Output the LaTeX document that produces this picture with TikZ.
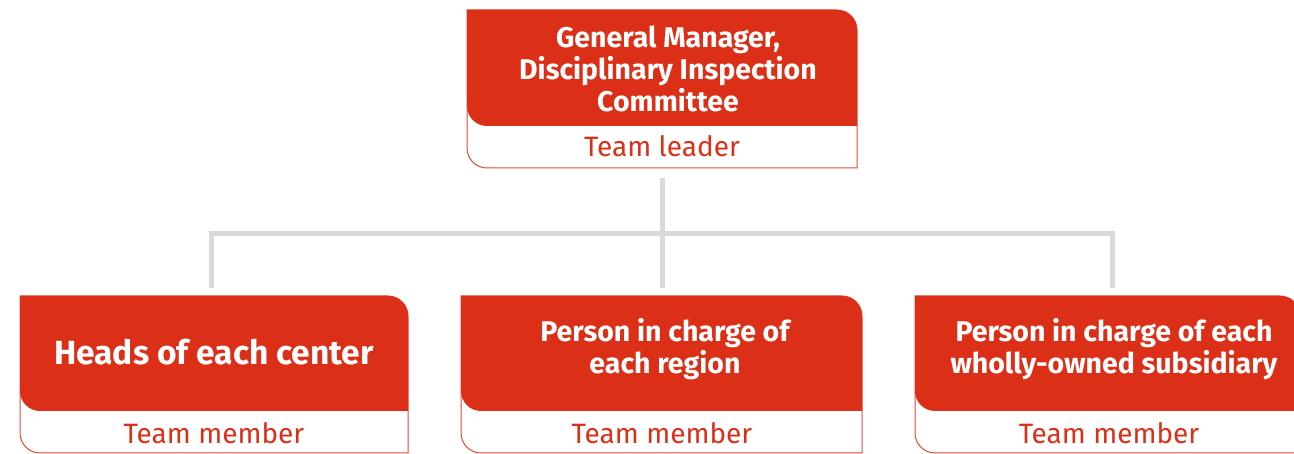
\documentclass[tikz,border=0pt]{standalone}
\usepackage{fontspec}
\setmainfont{Fira Sans}
\definecolor{bred}{HTML}{DC2F17}
\definecolor{lred}{HTML}{E2483A}
\definecolor{conngray}{HTML}{D9D9D9}
\newcommand\orgshape[5]{%
  \draw[outl] (#1,#3) -- (#2-20,#3) arc[start angle=90,end angle=0,radius=20] -- (#2,#5) -- (#1+20,#5) arc[start angle=270,end angle=180,radius=20] -- cycle;
  \fill[bred] (#1,#3) -- (#2-20,#3) arc[start angle=90,end angle=0,radius=20] -- (#2,#4) -- (#1+20,#4) arc[start angle=270,end angle=180,radius=20] -- cycle;}
\begin{document}
\begin{tikzpicture}[x=1pt,y=1pt,
  outl/.style={draw=lred,line width=1pt,fill=white},
  conn/.style={draw=conngray,line width=5pt},
  ttl/.style={text=white,font=\fontsize{28.5}{32}\selectfont\bfseries,align=center,inner sep=0pt},
  sub/.style={text=bred,font=\fontsize{28}{32}\selectfont,inner sep=0pt}]
\useasboundingbox (0,0) rectangle (1294,454);
\clip (0,0) rectangle (1294,454);
% connectors
\coordinate (top) at (662,276);
\coordinate (j) at (662,220);
\coordinate (c1) at (211,166);
\coordinate (c2) at (662,166);
\coordinate (c3) at (1112,166);
\draw[conn] (top) -- (c2);
\draw[conn] (c1) |- (j) -| (c3);
% boxes
\orgshape{467}{857}{444}{328}{286}
\orgshape{20}{408}{158}{43}{1}
\orgshape{461}{862}{158}{43}{1}
\orgshape{915}{1300}{158}{43}{1}
% texts
\node[ttl] (gm) at (668,385) {General Manager,\\Disciplinary Inspection\\Committee};
\node[sub] (gml) at (662,308) {Team leader};
\node[ttl,font=\fontsize{33.5}{36}\selectfont\bfseries] (hc) at (214,102) {Heads of each center};
\node[sub] (hcl) at (214,21) {Team member};
\node[ttl] (rg) at (665,105) {Person in charge of\\each region};
\node[sub] (rgl) at (662,21) {Team member};
\node[ttl] (ws) at (1114,105) {Person in charge of each\\wholly-owned subsidiary};
\node[sub] (wsl) at (1109,21) {Team member};
\end{tikzpicture}
\end{document}
